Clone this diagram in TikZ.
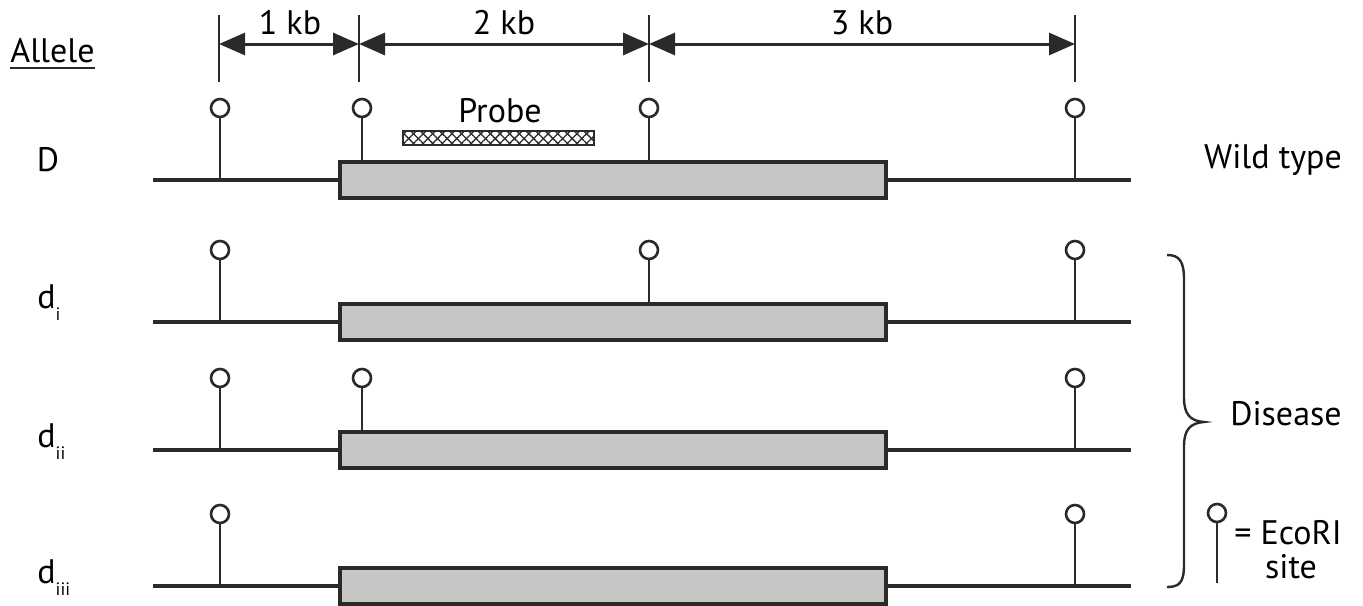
\documentclass[tikz,border=0pt]{standalone}
\usepackage{fontspec}
\setmainfont{PT Sans}
\usetikzlibrary{arrows.meta,patterns.meta}
\definecolor{ink}{HTML}{2B2A29}
\definecolor{genefill}{HTML}{C6C6C4}
\tikzset{
  dna/.style={draw=ink, line width=1.6pt},
  gene/.style={rectangle, draw=ink, fill=genefill, line width=1.6pt,
    minimum width=273pt, minimum height=18pt, inner sep=0pt, outer sep=0pt},
  site/.style={circle, draw=ink, fill=white, line width=1.3pt,
    minimum size=9pt, inner sep=0pt},
  stem/.style={draw=ink, line width=1.4pt},
  tick/.style={draw=ink, line width=0.6pt},
  dim/.style={draw=ink, line width=1.5pt, {Triangle[length=13pt,width=11pt]}-{Triangle[length=13pt,width=11pt]}},
  probebox/.style={rectangle, draw=ink, line width=1.4pt,
    minimum width=95.5pt, minimum height=7pt, inner sep=0pt,
    preaction={fill=white},
    preaction={pattern={Lines[angle=45,distance=3.4pt,line width=0.65pt]}, pattern color=ink},
    preaction={pattern={Lines[angle=-45,distance=3.4pt,line width=0.65pt]}, pattern color=ink}},
  lbl/.style={font=\fontsize{17}{20}\selectfont, inner sep=0pt},
  brace/.style={draw=ink, line width=1.2pt}
}
\newcommand{\subidx}[1]{\raisebox{-6pt}{\fontsize{9}{9}\selectfont #1}}
\begin{document}
\begin{tikzpicture}[x=0.5pt,y=-0.5pt]
\useasboundingbox (0,0) rectangle (1363,605);

% allele rows: DNA line with gene box on top
\foreach \r/\y in {D/180, i/322, ii/450, iii/586} {
  \coordinate (L\r) at (153,\y);
  \coordinate (R\r) at (1131,\y);
  \draw[dna] (L\r) -- (R\r);
  \node[gene] (box\r) at (613,\y) {};
  % flanking EcoRI sites present in every allele
  \node[site] (a\r) at (220,{\y-72}) {};
  \coordinate (ca\r) at (220,\y);
  \draw[stem] (a\r) -- (ca\r);
  \node[site] (d\r) at (1075,{\y-72}) {};
  \coordinate (cd\r) at (1075,\y);
  \draw[stem] (d\r) -- (cd\r);
}

% internal sites standing on the gene box
\foreach \r/\x/\y in {D/362/180, D/649/180, i/649/322, ii/362/450} {
  \node[site] (s\r\x) at (\x,{\y-72}) {};
  \draw[stem] (s\r\x) -- (s\r\x |- box\r.north);
}

% probe
\node[probebox] (probe) at (498.5,138) {};
\node[lbl] (probelbl) at (500,111) {Probe};

% distance scale
\foreach \n/\x in {1/219, 2/359, 3/649, 4/1075} {
  \coordinate (tt\n) at (\x,15);
  \coordinate (tb\n) at (\x,82);
  \coordinate (tm\n) at (\x,44);
  \draw[tick] (tt\n) -- (tb\n);
}
\draw[dim] (tm1) -- (tm2);
\draw[dim] (tm2) -- (tm3);
\draw[dim] (tm3) -- (tm4);
\node[lbl] (kb1) at (290,23) {1 kb};
\node[lbl] (kb2) at (504,23) {2 kb};
\node[lbl] (kb3) at (862,23) {3 kb};

% row labels
\node[lbl, anchor=base west] (allele) at (10,62) {Allele};
\draw[ink, line width=1.1pt] ([yshift=-3pt]allele.base west) -- ([yshift=-3pt]allele.base east);
\node[lbl, anchor=base] (labD) at (48,171) {D};
\node[lbl, anchor=base west] (labi) at (37,308) {d\subidx{i}};
\node[lbl, anchor=base west] (labii) at (37,447) {d\subidx{ii}};
\node[lbl, anchor=base west] (labiii) at (37,583) {d\subidx{iii}};
\node[lbl] (wt) at (1273,160) {Wild type};

% brace grouping the disease alleles
\draw[brace] (1167,255) .. controls (1180,255) and (1184,262) .. (1184,280)
  -- (1184,398) .. controls (1184,414) and (1190,421) .. (1204,422)
  .. controls (1190,423) and (1184,430) .. (1184,446)
  -- (1184,564) .. controls (1184,582) and (1180,587) .. (1167,587);
\node[lbl] (disease) at (1286,414) {Disease};

% legend
\node[site] (leg) at (1217,513) {};
\coordinate (legb) at (1217,583);
\draw[stem] (leg) -- (legb);
\node[lbl, anchor=west] (legtxt) at (1234,533) {= EcoRI};
\node[lbl] (legsite) at (1291,567) {site};
\end{tikzpicture}
\end{document}
